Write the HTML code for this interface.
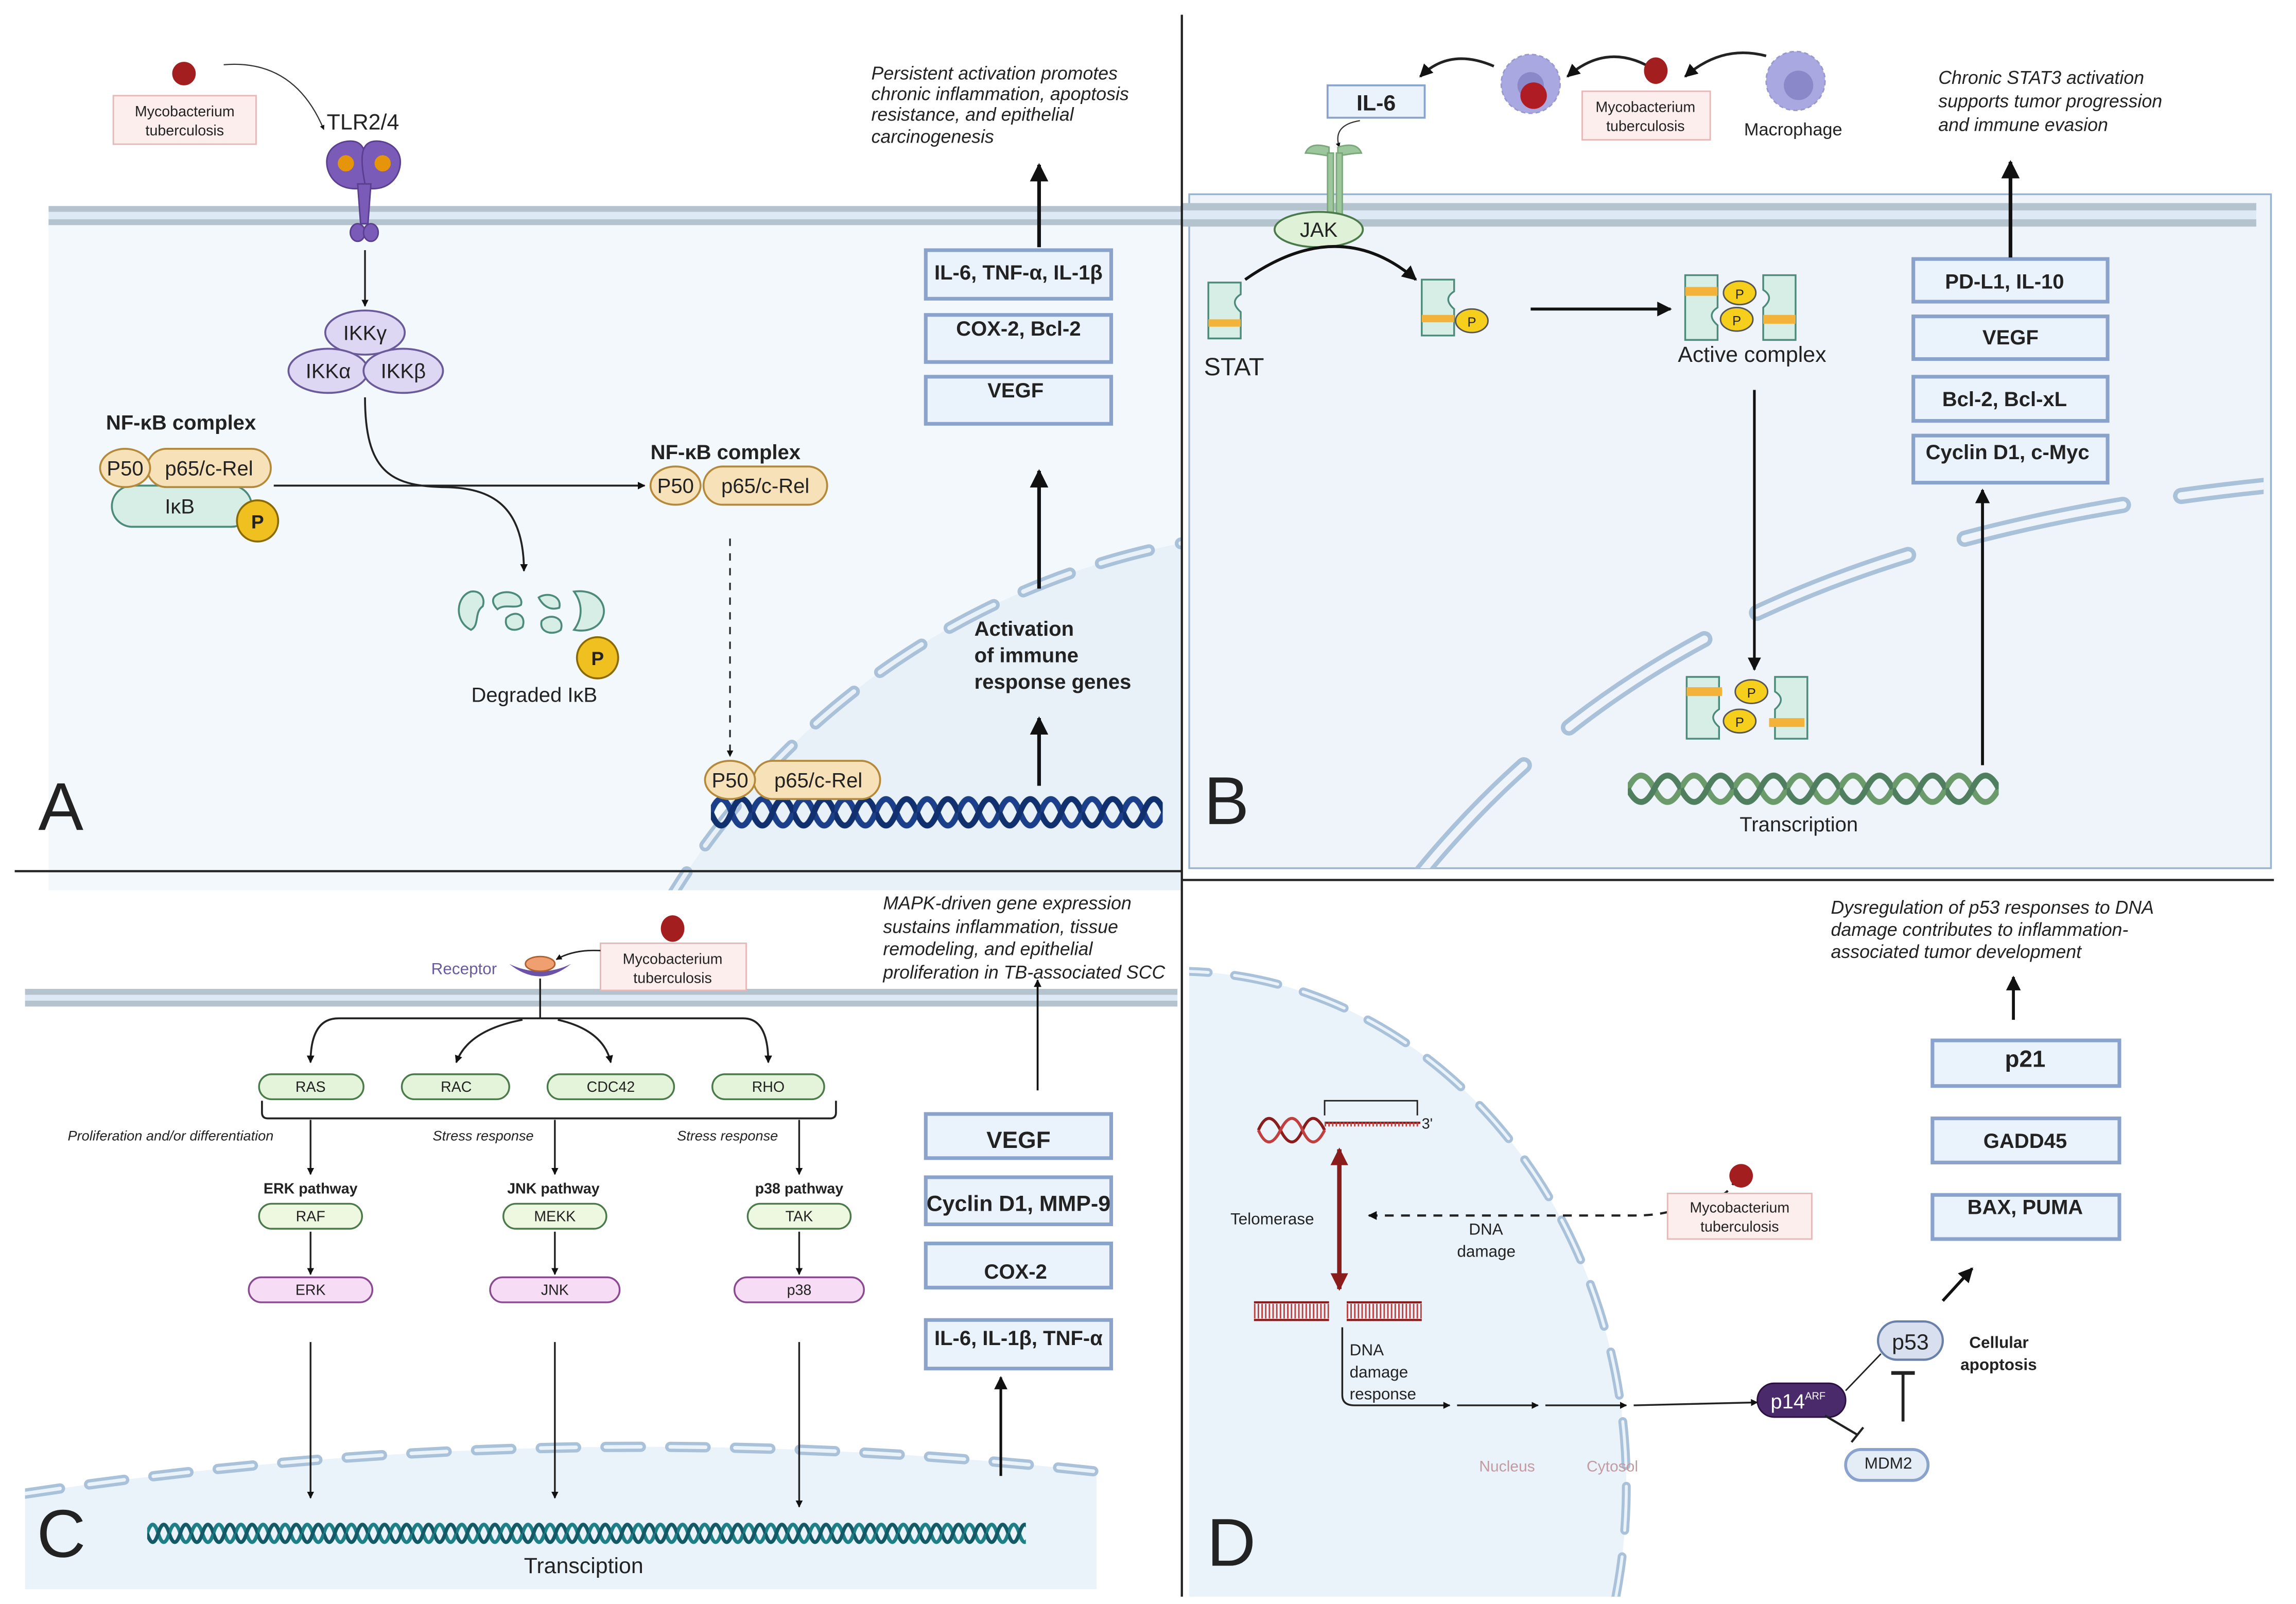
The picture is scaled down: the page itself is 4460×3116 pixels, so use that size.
<!DOCTYPE html>
<html><head><meta charset="utf-8"><style>
html,body{margin:0;padding:0;background:#fff;width:4460px;height:3116px;overflow:hidden}
svg{display:block}
text{font-family:"Liberation Sans",sans-serif;fill:#222}
.b{font-weight:bold}
.i{font-style:italic}
</style></head><body>
<svg xmlns="http://www.w3.org/2000/svg" width="4460" height="3116" viewBox="0 0 1560 1090" preserveAspectRatio="none">
<defs>
<marker id="ar" viewBox="0 0 10 10" refX="9" refY="5" markerWidth="5" markerHeight="5" orient="auto-start-reverse"><path d="M0 0L10 5L0 10z" fill="#111"/></marker>
<marker id="arb" viewBox="0 0 10 10" refX="9" refY="5" markerWidth="4" markerHeight="4" orient="auto-start-reverse"><path d="M0 0L10 5L0 10z" fill="#111"/></marker>
<marker id="arr" viewBox="0 0 10 10" refX="9" refY="5" markerWidth="4" markerHeight="4" orient="auto-start-reverse"><path d="M0 0L10 5L0 10z" fill="#8a1c1c"/></marker>
<pattern id="dnaA" width="28" height="26" patternUnits="userSpaceOnUse" x="483" y="539">
<path d="M0 13Q7 -5 14 13T28 13" fill="none" stroke="#1c3f8a" stroke-width="4"/>
<path d="M0 13Q7 31 14 13T28 13" fill="none" stroke="#10306e" stroke-width="4"/></pattern>
<pattern id="dnaB" width="36" height="26" patternUnits="userSpaceOnUse" x="1106" y="523">
<path d="M0 13Q9 -5 18 13T36 13" fill="none" stroke="#6b9a6b" stroke-width="4"/>
<path d="M0 13Q9 31 18 13T36 13" fill="none" stroke="#4f7f5f" stroke-width="4"/></pattern>
<pattern id="dnaC" width="15" height="18" patternUnits="userSpaceOnUse" x="100" y="1033">
<path d="M0 9Q3.75 -3 7.5 9T15 9" fill="none" stroke="#1f7f86" stroke-width="2.5"/>
<path d="M0 9Q3.75 21 7.5 9T15 9" fill="none" stroke="#145a66" stroke-width="2.5"/></pattern>
<clipPath id="cA"><rect x="33" y="150" width="770" height="455"/></clipPath>
<clipPath id="cB"><rect x="808" y="155" width="730" height="435"/></clipPath>
<clipPath id="cC"><rect x="17" y="960" width="730" height="120"/></clipPath>
<clipPath id="cD"><rect x="808" y="600" width="740" height="485"/></clipPath>
</defs>

<!-- ===== PANEL A ===== -->
<rect x="33" y="150" width="770" height="455" fill="#f3f8fc"/>
<g clip-path="url(#cA)">
<ellipse cx="900" cy="880" rx="520" ry="520" fill="#e8f0f8"/>
<ellipse cx="900" cy="880" rx="520" ry="520" fill="none" stroke="#a9c2da" stroke-width="8" stroke-dasharray="34 22" stroke-linecap="round"/>
<ellipse cx="900" cy="880" rx="520" ry="520" fill="none" stroke="#e8f0f8" stroke-width="3" stroke-dasharray="34 22" stroke-linecap="round"/>
</g>
<rect x="33" y="140" width="770" height="4" fill="#b4c3ce"/>
<rect x="33" y="144" width="770" height="5" fill="#ddeaf5"/>
<rect x="33" y="149" width="770" height="4" fill="#b4c3ce"/>

<circle cx="125" cy="50" r="8" fill="#a31f1f"/>
<rect x="77" y="65" width="97" height="33" fill="#fdeeee" stroke="#e6b8b8"/>
<text x="125.5" y="79" font-size="10" text-anchor="middle">Mycobacterium</text>
<text x="125.5" y="92" font-size="10" text-anchor="middle">tuberculosis</text>
<path d="M152 44Q200 40 220 88" fill="none" stroke="#333" stroke-width="0.8" marker-end="url(#arb)"/>
<text x="222" y="88" font-size="15">TLR2/4</text>
<g fill="#7a5cb8" stroke="#5a3e90" stroke-width="1">
<path d="M245 128C230 130 222 120 222 110C222 100 232 95 240 96C248 97 250 105 248 125z"/>
<path d="M250 128C264 130 272 120 272 110C272 100 262 95 254 96C246 97 244 105 248 125z"/>
<path d="M243 125L245 152L250 152L252 125z"/>
<ellipse cx="243" cy="158" rx="5" ry="6"/><ellipse cx="252" cy="158" rx="5" ry="6"/>
</g>
<circle cx="235" cy="111" r="5.5" fill="#e6950a"/><circle cx="260" cy="111" r="5.5" fill="#e6950a"/>
<line x1="248" y1="170" x2="248" y2="208" stroke="#222" stroke-width="1.2" marker-end="url(#arb)"/>
<g fill="#ddd7f3" stroke="#6a5a9a" stroke-width="1.3">
<ellipse cx="248" cy="226" rx="27" ry="15"/>
<ellipse cx="223" cy="252" rx="27" ry="15"/>
<ellipse cx="274" cy="252" rx="27" ry="15"/></g>
<text x="248" y="231" font-size="14" text-anchor="middle">IKKγ</text>
<text x="223" y="257" font-size="14" text-anchor="middle">IKKα</text>
<text x="274" y="257" font-size="14" text-anchor="middle">IKKβ</text>
<text x="72" y="292" font-size="14" class="b">NF-κB complex</text>
<rect x="76" y="330" width="95" height="28" rx="14" fill="#d7eee7" stroke="#4c8a7a" stroke-width="1.3"/>
<text x="112" y="349" font-size="14">IκB</text>
<rect x="100" y="305" width="84" height="26" rx="13" fill="#f6e1b8" stroke="#b48a3a" stroke-width="1.3"/>
<ellipse cx="85" cy="318" rx="17" ry="13" fill="#f6e1b8" stroke="#b48a3a" stroke-width="1.3"/>
<text x="85" y="323" font-size="14" text-anchor="middle">P50</text>
<text x="142" y="323" font-size="14" text-anchor="middle">p65/c-Rel</text>
<circle cx="175" cy="354" r="14" fill="#f0c020" stroke="#8a6a00" stroke-width="1.3"/>
<text x="175" y="359" font-size="13" class="b" text-anchor="middle">P</text>
<line x1="186" y1="330" x2="438" y2="330" stroke="#222" stroke-width="1.3" marker-end="url(#arb)"/>
<path d="M248 270C248 320 265 330 300 331C330 331 356 340 356 388" fill="none" stroke="#222" stroke-width="1.3" marker-end="url(#arb)"/>
<text x="442" y="312" font-size="14" class="b">NF-κB complex</text>
<rect x="478" y="317" width="84" height="26" rx="13" fill="#f6e1b8" stroke="#b48a3a" stroke-width="1.3"/>
<ellipse cx="459" cy="330" rx="17" ry="13" fill="#f6e1b8" stroke="#b48a3a" stroke-width="1.3"/>
<text x="459" y="335" font-size="14" text-anchor="middle">P50</text>
<text x="520" y="335" font-size="14" text-anchor="middle">p65/c-Rel</text>
<line x1="496" y1="366" x2="496" y2="514" stroke="#222" stroke-width="1.1" stroke-dasharray="5 5" marker-end="url(#arb)"/>
<g fill="#d7eee7" stroke="#4c8a7a" stroke-width="1.3">
<path d="M320 402C310 405 308 422 320 428C326 425 322 416 328 412C330 406 326 401 320 402z"/>
<path d="M338 404C345 400 356 404 354 411C350 414 343 410 338 414C334 410 334 406 338 404z"/>
<path d="M344 420C350 414 358 418 355 426C350 430 342 428 344 420z"/>
<path d="M366 406C372 402 382 405 380 413C374 415 369 412 366 406z"/>
<path d="M368 422C374 416 384 420 381 428C376 432 366 430 368 422z"/>
<path d="M390 402C405 400 412 410 410 418C408 426 400 430 390 428C396 420 396 410 390 402z"/>
</g>
<circle cx="406" cy="447" r="14" fill="#f0c020" stroke="#8a6a00" stroke-width="1.3"/>
<text x="406" y="452" font-size="13" class="b" text-anchor="middle">P</text>
<text x="363" y="477" font-size="14" text-anchor="middle">Degraded IκB</text>
<rect x="483" y="539" width="307" height="26" fill="url(#dnaA)"/>
<rect x="512" y="517" width="86" height="26" rx="13" fill="#f6e1b8" stroke="#b48a3a" stroke-width="1.3"/>
<ellipse cx="496" cy="530" rx="17" ry="13" fill="#f6e1b8" stroke="#b48a3a" stroke-width="1.3"/>
<text x="496" y="535" font-size="14" text-anchor="middle">P50</text>
<text x="556" y="535" font-size="14" text-anchor="middle">p65/c-Rel</text>
<line x1="706" y1="534" x2="706" y2="488" stroke="#111" stroke-width="2.5" marker-end="url(#ar)"/>
<text x="662" y="432" font-size="14" class="b">Activation</text>
<text x="662" y="450" font-size="14" class="b">of immune</text>
<text x="662" y="468" font-size="14" class="b">response genes</text>
<line x1="706" y1="400" x2="706" y2="320" stroke="#111" stroke-width="2.5" marker-end="url(#ar)"/>
<g fill="#eaf2fb" stroke="#8aa3cc" stroke-width="2.5">
<rect x="629" y="170" width="126" height="33"/><rect x="629" y="214" width="126" height="32"/><rect x="629" y="256" width="126" height="32"/></g>
<text x="692" y="190" font-size="14" class="b" text-anchor="middle">IL-6, TNF-α, IL-1β</text>
<text x="692" y="228" font-size="14" class="b" text-anchor="middle">COX-2, Bcl-2</text>
<text x="690" y="270" font-size="14" class="b" text-anchor="middle">VEGF</text>
<line x1="706" y1="168" x2="706" y2="112" stroke="#111" stroke-width="2.5" marker-end="url(#ar)"/>
<g font-size="12.5"><text x="592" y="54" class="i">Persistent activation promotes</text>
<text x="592" y="68" class="i">chronic inflammation, apoptosis</text>
<text x="592" y="82" class="i">resistance, and epithelial</text>
<text x="592" y="97" class="i">carcinogenesis</text></g>
<text x="26" y="564" font-size="46">A</text>

<!-- ===== PANEL B ===== -->
<rect x="808" y="132" width="735" height="458" fill="#eef4fa" stroke="#9ab4d0" stroke-width="1.2"/>
<g clip-path="url(#cB)">
<path d="M960 600C1080 450 1250 360 1540 330" fill="none" stroke="#a9c2da" stroke-width="11" stroke-dasharray="110 40" stroke-linecap="round"/>
<path d="M960 600C1080 450 1250 360 1540 330" fill="none" stroke="#eef4fa" stroke-width="5" stroke-dasharray="110 40" stroke-linecap="round"/>
</g>
<rect x="803" y="138" width="730" height="5" fill="#b4c3ce"/>
<rect x="803" y="143" width="730" height="6" fill="#ddeaf5"/>
<rect x="803" y="149" width="730" height="5" fill="#b4c3ce"/>
<rect x="902" y="58" width="66" height="22" fill="#eaf2fb" stroke="#8aa3cc" stroke-width="1.3"/>
<text x="935" y="75" font-size="15" class="b" text-anchor="middle">IL-6</text>
<circle cx="1040" cy="57" r="20" fill="#aaa8e0" stroke="#9a98d0" stroke-dasharray="3 2"/>
<circle cx="1040" cy="58" r="9" fill="#8a88c8"/>
<circle cx="1042" cy="65" r="9" fill="#b01c24"/>
<ellipse cx="1125" cy="48" rx="8" ry="9" fill="#a31f1f"/>
<rect x="1075" y="62" width="87" height="33" fill="#fdeeee" stroke="#e6b8b8"/>
<text x="1118" y="76" font-size="10" text-anchor="middle">Mycobacterium</text>
<text x="1118" y="89" font-size="10" text-anchor="middle">tuberculosis</text>
<circle cx="1220" cy="55" r="20" fill="#aaa8e0" stroke="#9a98d0" stroke-dasharray="3 2"/>
<circle cx="1222" cy="58" r="10" fill="#8a88c8"/>
<text x="1185" y="92" font-size="12">Macrophage</text>
<path d="M1015 45Q985 32 965 52" fill="none" stroke="#222" stroke-width="1.8" marker-end="url(#ar)"/>
<path d="M1118 44Q1090 30 1065 52" fill="none" stroke="#222" stroke-width="1.8" marker-end="url(#ar)"/>
<path d="M1200 38Q1170 30 1145 52" fill="none" stroke="#222" stroke-width="1.8" marker-end="url(#ar)"/>
<path d="M924 82Q905 85 910 100" fill="none" stroke="#333" stroke-width="0.8" marker-end="url(#arb)"/>
<g fill="#9cc79c" stroke="#7aa87a">
<path d="M887 104Q890 96 903 100L903 106Q892 104 887 104z"/>
<path d="M925 104Q922 96 909 100L909 106Q920 104 925 104z"/>
<rect x="902" y="104" width="4" height="44"/><rect x="908" y="104" width="4" height="44"/></g>
<ellipse cx="896" cy="156" rx="30" ry="12" fill="#dff2d8" stroke="#4a7a4a" stroke-width="1.3"/>
<text x="896" y="161" font-size="14" text-anchor="middle">JAK</text>
<path d="M821 192h22v8q-8 5 0 12v18h-22z" fill="#d7eee7" stroke="#4c8a7a" stroke-width="1.2"/>
<rect x="821" y="217" width="22" height="5" fill="#f3b23a"/>
<text x="818" y="255" font-size="17">STAT</text>
<path d="M846 190Q910 145 962 190" fill="none" stroke="#111" stroke-width="2" marker-end="url(#ar)"/>
<path d="M966 190h22v8q-8 5 0 12v18h-22z" fill="#d7eee7" stroke="#4c8a7a" stroke-width="1.2"/>
<rect x="966" y="214" width="22" height="5" fill="#f3b23a"/>
<ellipse cx="1000" cy="218" rx="11" ry="8" fill="#f5cf1c" stroke="#555"/>
<text x="1000" y="222" font-size="9" text-anchor="middle">P</text>
<line x1="1040" y1="210" x2="1135" y2="210" stroke="#111" stroke-width="2" marker-end="url(#ar)"/>
<g stroke="#4c8a7a" stroke-width="1.2" fill="#d7eee7">
<path d="M1145 187h22v22q-8 5 0 12v10h-22z"/><path d="M1220 187h-22v10q8 5 0 12v22h22z"/></g>
<rect x="1145" y="195" width="22" height="6" fill="#f3b23a"/><rect x="1198" y="214" width="22" height="6" fill="#f3b23a"/>
<ellipse cx="1182" cy="199" rx="11" ry="8" fill="#f5cf1c" stroke="#555"/><ellipse cx="1180" cy="217" rx="11" ry="8" fill="#f5cf1c" stroke="#555"/>
<text x="1182" y="203" font-size="9" text-anchor="middle">P</text><text x="1180" y="221" font-size="9" text-anchor="middle">P</text>
<text x="1140" y="246" font-size="15">Active complex</text>
<line x1="1192" y1="265" x2="1192" y2="455" stroke="#111" stroke-width="1.8" marker-end="url(#ar)"/>
<g stroke="#4c8a7a" stroke-width="1.2" fill="#d7eee7">
<path d="M1146 460h22v22q-8 5 0 12v8h-22z"/><path d="M1228 460h-22v10q8 5 0 12v20h22z"/></g>
<rect x="1146" y="467" width="24" height="6" fill="#f3b23a"/><rect x="1202" y="488" width="24" height="6" fill="#f3b23a"/>
<ellipse cx="1190" cy="470" rx="11" ry="8" fill="#f5cf1c" stroke="#555"/><ellipse cx="1182" cy="490" rx="11" ry="8" fill="#f5cf1c" stroke="#555"/>
<text x="1190" y="474" font-size="9" text-anchor="middle">P</text><text x="1182" y="494" font-size="9" text-anchor="middle">P</text>
<rect x="1106" y="523" width="252" height="26" fill="url(#dnaB)"/>
<text x="1182" y="565" font-size="14">Transcription</text>
<line x1="1347" y1="520" x2="1347" y2="333" stroke="#111" stroke-width="2" marker-end="url(#ar)"/>
<g fill="#eaf2fb" stroke="#8aa3cc" stroke-width="2.5">
<rect x="1300" y="176" width="132" height="29"/><rect x="1300" y="215" width="132" height="29"/><rect x="1300" y="256" width="132" height="30"/><rect x="1300" y="296" width="132" height="32"/></g>
<text x="1362" y="196" font-size="14" class="b" text-anchor="middle">PD-L1, IL-10</text>
<text x="1366" y="234" font-size="14" class="b" text-anchor="middle">VEGF</text>
<text x="1362" y="276" font-size="14" class="b" text-anchor="middle">Bcl-2, Bcl-xL</text>
<text x="1364" y="312" font-size="14" class="b" text-anchor="middle">Cyclin D1, c-Myc</text>
<line x1="1366" y1="175" x2="1366" y2="110" stroke="#111" stroke-width="2.5" marker-end="url(#ar)"/>
<text x="1317" y="57" font-size="12.5" class="i">Chronic STAT3 activation</text>
<text x="1317" y="73" font-size="12.5" class="i">supports tumor progression</text>
<text x="1317" y="89" font-size="12.5" class="i">and immune evasion</text>
<text x="818" y="560" font-size="46">B</text>

<!-- ===== PANEL C ===== -->
<g clip-path="url(#cC)">
<path d="M17 1015Q380 960 745 1000L745 1080L17 1080z" fill="#eaf2fa"/>
<path d="M17 1015Q380 960 745 1000" fill="none" stroke="#a9c2da" stroke-width="7" stroke-dasharray="24 20" stroke-linecap="round"/>
<path d="M17 1015Q380 960 745 1000" fill="none" stroke="#eaf2fa" stroke-width="2.5" stroke-dasharray="24 20" stroke-linecap="round"/>
</g>
<rect x="17" y="672" width="783" height="4" fill="#b4c3ce"/>
<rect x="17" y="676" width="783" height="4" fill="#ddeaf5"/>
<rect x="17" y="680" width="783" height="4" fill="#b4c3ce"/>
<ellipse cx="457" cy="631" rx="8" ry="9" fill="#a31f1f"/>
<rect x="408" y="641" width="99" height="32" fill="#fdeeee" stroke="#e6b8b8"/>
<text x="457" y="655" font-size="10" text-anchor="middle">Mycobacterium</text>
<text x="457" y="668" font-size="10" text-anchor="middle">tuberculosis</text>
<path d="M408 646Q390 645 378 652" fill="none" stroke="#222" stroke-width="1" marker-end="url(#arb)"/>
<path d="M346 655Q367 672 388 655Q378 660 367 660Q356 660 346 655z" fill="#6a52a8"/>
<ellipse cx="367" cy="655" rx="10" ry="5" fill="#f0a070" stroke="#b06030"/>
<text x="293" y="662" font-size="11" style="fill:#6a5aa0">Receptor</text>
<line x1="367" y1="665" x2="367" y2="692" stroke="#222" stroke-width="1.2"/>
<g fill="none" stroke="#222" stroke-width="1.3" marker-end="url(#arb)">
<path d="M367 692L230 692Q211 692 211 722"/><path d="M355 693Q318 700 310 722"/>
<path d="M379 693Q410 700 415 722"/><path d="M367 692L505 692Q522 692 522 722"/></g>
<g fill="#e4f4da" stroke="#4a7a4a" stroke-width="1.2">
<rect x="176" y="730" width="71" height="17" rx="8.5"/><rect x="273" y="730" width="73" height="17" rx="8.5"/>
<rect x="372" y="730" width="86" height="17" rx="8.5"/><rect x="484" y="730" width="76" height="17" rx="8.5"/></g>
<g font-size="10" text-anchor="middle"><text x="211" y="742">RAS</text><text x="310" y="742">RAC</text><text x="415" y="742">CDC42</text><text x="522" y="742">RHO</text></g>
<path d="M178 748v8q0 4 4 4h382q4 0 4-4v-8" fill="none" stroke="#222" stroke-width="1.3"/>
<g font-size="9.5"><text x="46" y="775" class="i">Proliferation and/or differentiation</text><text x="294" y="775" class="i">Stress response</text><text x="460" y="775" class="i">Stress response</text></g>
<g stroke="#222" stroke-width="1.2" marker-end="url(#arb)">
<line x1="211" y1="761" x2="211" y2="798"/><line x1="377" y1="761" x2="377" y2="798"/><line x1="543" y1="761" x2="543" y2="798"/>
<line x1="211" y1="837" x2="211" y2="866"/><line x1="377" y1="837" x2="377" y2="866"/><line x1="543" y1="837" x2="543" y2="866"/>
<line x1="211" y1="912" x2="211" y2="1018"/><line x1="377" y1="912" x2="377" y2="1018"/><line x1="543" y1="912" x2="543" y2="1024"/></g>
<g font-size="10" text-anchor="middle"><text x="211" y="811" class="b">ERK pathway</text><text x="376" y="811" class="b">JNK pathway</text><text x="543" y="811" class="b">p38 pathway</text></g>
<g fill="#eef7df" stroke="#4a7a4a" stroke-width="1.2">
<rect x="176" y="818" width="70" height="17" rx="8.5"/><rect x="342" y="818" width="70" height="17" rx="8.5"/><rect x="508" y="818" width="70" height="17" rx="8.5"/></g>
<g fill="#f6dcf5" stroke="#8a4a90" stroke-width="1.2">
<rect x="169" y="868" width="84" height="17" rx="8.5"/><rect x="333" y="868" width="88" height="17" rx="8.5"/><rect x="499" y="868" width="88" height="17" rx="8.5"/></g>
<g font-size="10" text-anchor="middle"><text x="211" y="830">RAF</text><text x="377" y="830">MEKK</text><text x="543" y="830">TAK</text>
<text x="211" y="880">ERK</text><text x="377" y="880">JNK</text><text x="543" y="880">p38</text></g>
<rect x="100" y="1033" width="597" height="18" fill="url(#dnaC)"/>
<text x="356" y="1069" font-size="15">Transciption</text>
<g fill="#eaf2fb" stroke="#8aa3cc" stroke-width="2.5">
<rect x="629" y="757" width="126" height="30"/><rect x="629" y="800" width="126" height="32"/><rect x="629" y="845" width="126" height="30"/><rect x="629" y="897" width="126" height="33"/></g>
<text x="692" y="780" font-size="16" class="b" text-anchor="middle">VEGF</text>
<text x="692" y="823" font-size="15" class="b" text-anchor="middle">Cyclin D1, MMP-9</text>
<text x="690" y="869" font-size="14" class="b" text-anchor="middle">COX-2</text>
<text x="692" y="914" font-size="14" class="b" text-anchor="middle">IL-6, IL-1β, TNF-α</text>
<line x1="680" y1="1003" x2="680" y2="936" stroke="#111" stroke-width="1.8" marker-end="url(#ar)"/>
<line x1="705" y1="741" x2="705" y2="666" stroke="#111" stroke-width="1.3" marker-end="url(#arb)"/>
<g font-size="12.5"><text x="600" y="618" class="i">MAPK-driven gene expression</text><text x="600" y="634" class="i">sustains inflammation, tissue</text>
<text x="600" y="649" class="i">remodeling, and epithelial</text><text x="600" y="665" class="i">proliferation in TB-associated SCC</text></g>
<text x="25" y="1058" font-size="46">C</text>

<!-- ===== PANEL D ===== -->
<g clip-path="url(#cD)">
<ellipse cx="800" cy="1010" rx="305" ry="350" fill="#eaf2fa"/>
<ellipse cx="800" cy="1010" rx="305" ry="350" fill="none" stroke="#a9c2da" stroke-width="6" stroke-dasharray="30 18" stroke-linecap="round"/>
<ellipse cx="800" cy="1010" rx="305" ry="350" fill="none" stroke="#eaf2fa" stroke-width="2" stroke-dasharray="30 18" stroke-linecap="round"/>
</g>
<path d="M855 768Q862 752 870 768T885 768T900 768" fill="none" stroke="#8a1c1c" stroke-width="2"/>
<path d="M855 768Q862 784 870 768T885 768T900 768" fill="none" stroke="#c04040" stroke-width="2"/>
<line x1="900" y1="763" x2="965" y2="763" stroke="#8a1c1c" stroke-width="1.5"/>
<line x1="900" y1="764" x2="965" y2="764" stroke="#c04040" stroke-width="3" stroke-dasharray="1 1.5"/>
<path d="M900 758v-10h63v10" fill="none" stroke="#222" stroke-width="1"/>
<text x="966" y="767" font-size="10">3'</text>
<line x1="910" y1="781" x2="910" y2="876" stroke="#8a1c1c" stroke-width="3" marker-start="url(#arr)" marker-end="url(#arr)"/>
<line x1="852" y1="885" x2="903" y2="885" stroke="#8a1c1c" stroke-width="1.5"/><line x1="852" y1="897" x2="903" y2="897" stroke="#8a1c1c" stroke-width="1.5"/>
<line x1="915" y1="885" x2="966" y2="885" stroke="#8a1c1c" stroke-width="1.5"/><line x1="915" y1="897" x2="966" y2="897" stroke="#8a1c1c" stroke-width="1.5"/>
<line x1="852" y1="891" x2="903" y2="891" stroke="#c04040" stroke-width="10" stroke-dasharray="1 1.5"/>
<line x1="915" y1="891" x2="966" y2="891" stroke="#c04040" stroke-width="10" stroke-dasharray="1 1.5"/>
<text x="836" y="832" font-size="11">Telomerase</text>
<path d="M1180 800Q1175 810 1170 812L1148 815Q1140 826 1110 826L930 826" fill="none" stroke="#222" stroke-width="1.5" stroke-dasharray="6 5" marker-end="url(#arb)"/>
<circle cx="1183" cy="799" r="8" fill="#a31f1f"/>
<rect x="1133" y="811" width="98" height="31" fill="#fdeeee" stroke="#e6b8b8"/>
<text x="1182" y="824" font-size="10" text-anchor="middle">Mycobacterium</text>
<text x="1182" y="837" font-size="10" text-anchor="middle">tuberculosis</text>
<text x="998" y="839" font-size="11">DNA</text><text x="990" y="854" font-size="11">damage</text>
<text x="917" y="921" font-size="11">DNA</text><text x="917" y="936" font-size="11">damage</text><text x="917" y="951" font-size="11">response</text>
<path d="M912 902L912 948Q912 955 920 955L985 955" fill="none" stroke="#222" stroke-width="1.2" marker-end="url(#arb)"/>
<line x1="990" y1="955" x2="1045" y2="955" stroke="#222" stroke-width="1.2" marker-end="url(#arb)"/>
<line x1="1050" y1="955" x2="1105" y2="955" stroke="#222" stroke-width="1.2" marker-end="url(#arb)"/>
<line x1="1110" y1="955" x2="1194" y2="953" stroke="#222" stroke-width="1.2" marker-end="url(#arb)"/>
<rect x="1194" y="940" width="60" height="23" rx="11.5" fill="#4a2a6a" stroke="#2a1040"/>
<text x="1203" y="957" font-size="14" style="fill:#fff">p14<tspan font-size="7" dy="-6" style="fill:#fff">ARF</tspan></text>
<line x1="1254" y1="945" x2="1278" y2="920" stroke="#222" stroke-width="1"/>
<line x1="1240" y1="962" x2="1262" y2="975" stroke="#222" stroke-width="1.5"/><line x1="1258" y1="980" x2="1266" y2="970" stroke="#222" stroke-width="1.5"/>
<rect x="1276" y="898" width="44" height="26" rx="13" fill="#d8e0f0" stroke="#6a80a8" stroke-width="1.5"/>
<text x="1298" y="917" font-size="15" text-anchor="middle">p53</text>
<text x="1338" y="916" font-size="11" class="b">Cellular</text><text x="1332" y="931" font-size="11" class="b">apoptosis</text>
<line x1="1293" y1="966" x2="1293" y2="933" stroke="#222" stroke-width="2"/><line x1="1285" y1="933" x2="1301" y2="933" stroke="#222" stroke-width="2.5"/>
<rect x="1254" y="985" width="56" height="21" rx="10.5" fill="#e4ecf6" stroke="#8aa3cc" stroke-width="2"/>
<text x="1283" y="998" font-size="11" text-anchor="middle">MDM2</text>
<line x1="1320" y1="884" x2="1340" y2="862" stroke="#111" stroke-width="2" marker-end="url(#ar)"/>
<text x="1005" y="1000" font-size="10.5" style="fill:#c49aa2">Nucleus</text>
<text x="1078" y="1000" font-size="10.5" style="fill:#c49aa2">Cytosol</text>
<g fill="#eaf2fb" stroke="#8aa3cc" stroke-width="2.5">
<rect x="1313" y="707" width="127" height="31"/><rect x="1313" y="760" width="127" height="30"/><rect x="1313" y="812" width="127" height="30"/></g>
<text x="1376" y="725" font-size="16" class="b" text-anchor="middle">p21</text>
<text x="1376" y="780" font-size="14" class="b" text-anchor="middle">GADD45</text>
<text x="1376" y="825" font-size="14" class="b" text-anchor="middle">BAX, PUMA</text>
<line x1="1368" y1="693" x2="1368" y2="664" stroke="#111" stroke-width="2" marker-end="url(#ar)"/>
<g font-size="12.5"><text x="1244" y="621" class="i">Dysregulation of p53 responses to DNA</text><text x="1244" y="636" class="i">damage contributes to inflammation-</text><text x="1244" y="651" class="i">associated tumor development</text></g>
<text x="820" y="1064" font-size="46">D</text>

<!-- dividers (on top) -->
<line x1="803" y1="10" x2="803" y2="1085" stroke="#222" stroke-width="1.5"/>
<line x1="10" y1="592" x2="803" y2="592" stroke="#222" stroke-width="1.5"/>
<line x1="803" y1="598" x2="1545" y2="598" stroke="#222" stroke-width="1.5"/>
</svg>
</body></html>
